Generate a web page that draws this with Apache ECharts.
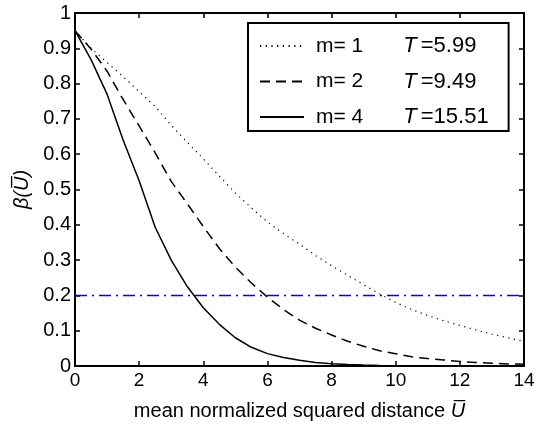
<!DOCTYPE html>
<html>
<head>
<meta charset="utf-8">
<script src="https://cdn.jsdelivr.net/npm/echarts@6/dist/echarts.min.js"></script>
<style>
html, body { margin: 0; padding: 0; background: #fff; }
#main { width: 545px; height: 426px; }
</style>
</head>
<body>
<div id="main"></div>
<script>
// 横轴取样点 U
var uVals = [0, 0.5, 1, 1.5, 2, 2.5, 3, 3.5, 4, 4.5, 5, 5.5, 6, 6.5, 7, 7.5, 8, 8.5, 9, 9.5, 10, 10.5, 11, 11.5, 12, 12.5, 13, 13.5, 14];
// m=1 点线
var betaM1 = [0.95, 0.9, 0.86, 0.82, 0.777, 0.735, 0.682, 0.634, 0.587, 0.538, 0.49, 0.448, 0.408, 0.375, 0.345, 0.313, 0.284, 0.257, 0.23, 0.204, 0.18, 0.16, 0.143, 0.128, 0.115, 0.102, 0.09, 0.08, 0.07];
// m=2 虚线
var betaM2 = [0.95, 0.898, 0.835, 0.755, 0.68, 0.604, 0.523, 0.46, 0.395, 0.333, 0.28, 0.235, 0.195, 0.16, 0.13, 0.107, 0.088, 0.07, 0.056, 0.043, 0.035, 0.026, 0.021, 0.017, 0.013, 0.01, 0.008, 0.006, 0.005];
// m=4 实线
var betaM4 = [0.95, 0.868, 0.77, 0.64, 0.525, 0.393, 0.3, 0.225, 0.165, 0.118, 0.08, 0.053, 0.035, 0.024, 0.016, 0.01, 0.0065, 0.004, 0.0025, 0.0015, 0.001, 0.0007, 0.0004, 0.0003, 0.0002, 0.0001, 0.0001, 0.0001, 0];
var seriesNames = ['m= 1', 'm= 2', 'm= 4'];
var thresholds = ['5.99', '9.49', '15.51'];
var refLevel = 0.2;

var FONT = '"Liberation Sans", Arial, sans-serif';

function pairs(ys){
    return uVals.map(function(u, i){ return [u, ys[i]]; });
}

var chart = echarts.init(document.getElementById('main'));

var axisLine = { show: true, onZero: false, lineStyle: { color: '#000', width: 2 } };
var axisTick = { show: true, inside: true, length: 5, lineStyle: { color: '#000', width: 1.5 } };

var option = {
    animation: false,
    backgroundColor: '#fff',
    grid: { left: 75, right: 21, top: 13, bottom: 57 },
    legend: {
        orient: 'vertical',
        left: 248,
        top: 23,
        data: seriesNames,
        itemWidth: 44,
        itemHeight: 14,
        itemGap: 13.5,
        padding: [12, 20, 3, 11],
        borderColor: '#000',
        borderWidth: 2,
        backgroundColor: '#fff',
        borderRadius: 0,
        itemStyle: { opacity: 0 },
        formatter: function(name){
            var i = seriesNames.indexOf(name);
            return '{a|' + name + '}{t|T}{b|=' + thresholds[i] + '}';
        },
        textStyle: {
            fontFamily: FONT,
            fontSize: 20,
            lineHeight: 20,
            rich: {
                a: { fontFamily: FONT, fontSize: 21, color: '#000', lineHeight: 20, padding: [0, 0, 0, 7] },
                t: { fontFamily: FONT, fontSize: 22, color: '#000', fontStyle: 'italic', lineHeight: 20, padding: [0, 0, 0, 40] },
                b: { fontFamily: FONT, fontSize: 22, color: '#000', lineHeight: 20, padding: [0, 0, 0, 4] }
            }
        }
    },
    xAxis: [{
        type: 'value',
        min: 0, max: 14, interval: 2,
        name: 'mean normalized squared distance {u|U\u0305}',
        nameLocation: 'middle',
        nameGap: 35,
        nameTextStyle: {
            fontFamily: FONT, fontSize: 20, color: '#000',
            rich: { u: { fontFamily: FONT, fontSize: 20, color: '#000', fontStyle: 'italic' } }
        },
        axisLine: axisLine,
        axisTick: axisTick,
        splitLine: { show: false },
        axisLabel: { fontFamily: FONT, fontSize: 19, color: '#000', margin: 5 }
    }, {
        type: 'value',
        position: 'top',
        min: 0, max: 14, interval: 2,
        axisLine: axisLine,
        axisTick: axisTick,
        splitLine: { show: false },
        axisLabel: { show: false }
    }],
    yAxis: [{
        type: 'value',
        min: 0, max: 1, interval: 0.1,
        name: '\u03b2(U\u0305)',
        nameLocation: 'middle',
        nameGap: 25,
        nameTextStyle: { fontFamily: FONT, fontSize: 20, color: '#000', fontStyle: 'italic' },
        axisLine: axisLine,
        axisTick: axisTick,
        splitLine: { show: false },
        axisLabel: {
            fontFamily: FONT, fontSize: 20, color: '#000', margin: 4,
            formatter: function(v){ return String(+v.toFixed(1)); }
        }
    }, {
        type: 'value',
        position: 'right',
        min: 0, max: 1, interval: 0.1,
        axisLine: axisLine,
        axisTick: axisTick,
        splitLine: { show: false },
        axisLabel: { show: false }
    }],
    series: [
        {
            name: seriesNames[0], type: 'line', data: pairs(betaM1), symbol: 'none',
            itemStyle: { color: '#000' },
            lineStyle: { color: '#000', width: 1.2, type: [1.2, 4.5] }
        },
        {
            name: seriesNames[1], type: 'line', data: pairs(betaM2), symbol: 'none',
            itemStyle: { color: '#000' },
            lineStyle: { color: '#000', width: 1.5, type: [10, 6] }
        },
        {
            name: seriesNames[2], type: 'line', data: pairs(betaM4), symbol: 'none',
            itemStyle: { color: '#000' },
            lineStyle: { color: '#000', width: 1.5, type: 'solid' }
        },
        {
            name: 'ref', type: 'line', symbol: 'none',
            data: [[0, refLevel], [14, refLevel]],
            lineStyle: { color: '#0000ff', width: 1.5, type: [12, 5, 2, 5] },
            z: 1
        }
    ]
};

chart.setOption(option);
</script>
</body>
</html>
